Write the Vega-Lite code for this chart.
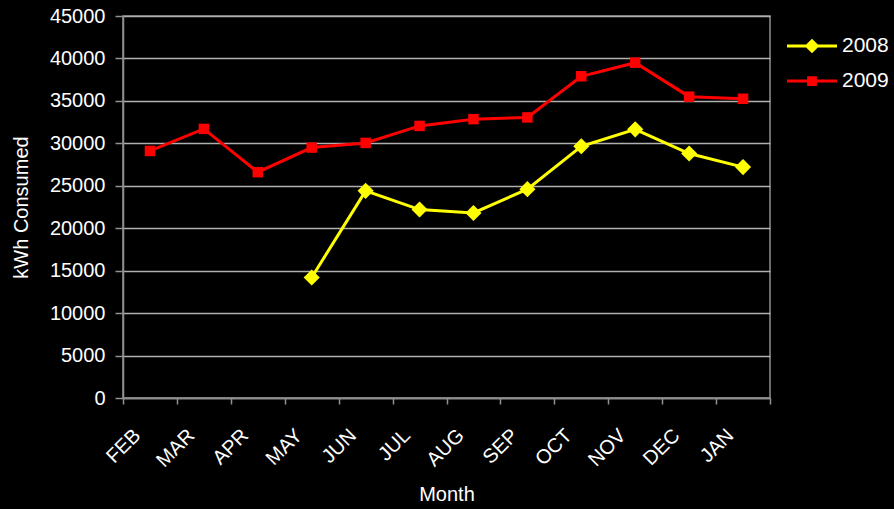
{
  "$schema": "https://vega.github.io/schema/vega-lite/v6.json",
  "width": 647,
  "height": 382,
  "autosize": "none",
  "padding": {"left": 123, "top": 16, "right": 124, "bottom": 111},
  "background": "#000000",
  "config": {
    "font": "Liberation Sans",
    "view": {"stroke": "#909090", "strokeWidth": 1.5},
    "axis": {
      "labelColor": "#ffffff", "titleColor": "#ffffff",
      "labelFont": "Liberation Sans", "titleFont": "Liberation Sans",
      "labelFontSize": 20, "titleFontSize": 20, "titleFontWeight": "normal",
      "domainColor": "#909090", "tickColor": "#909090", "gridColor": "#b0b0b0",
      "domainWidth": 1.5, "tickWidth": 1.5, "gridWidth": 1.5
    },
    "legend": {"labelColor": "#ffffff", "labelFont": "Liberation Sans", "labelFontSize": 21}
  },
  "data": {"values": [
    {"month": "FEB", "year": "2009", "kwh": 29100},
    {"month": "MAR", "year": "2009", "kwh": 31700},
    {"month": "APR", "year": "2009", "kwh": 26600},
    {"month": "MAY", "year": "2009", "kwh": 29500},
    {"month": "JUN", "year": "2009", "kwh": 30050},
    {"month": "JUL", "year": "2009", "kwh": 32050},
    {"month": "AUG", "year": "2009", "kwh": 32850},
    {"month": "SEP", "year": "2009", "kwh": 33050},
    {"month": "OCT", "year": "2009", "kwh": 37900},
    {"month": "NOV", "year": "2009", "kwh": 39500},
    {"month": "DEC", "year": "2009", "kwh": 35500},
    {"month": "JAN", "year": "2009", "kwh": 35250},
    {"month": "MAY", "year": "2008", "kwh": 14200},
    {"month": "JUN", "year": "2008", "kwh": 24400},
    {"month": "JUL", "year": "2008", "kwh": 22200},
    {"month": "AUG", "year": "2008", "kwh": 21800},
    {"month": "SEP", "year": "2008", "kwh": 24600},
    {"month": "OCT", "year": "2008", "kwh": 29650},
    {"month": "NOV", "year": "2008", "kwh": 31650},
    {"month": "DEC", "year": "2008", "kwh": 28800},
    {"month": "JAN", "year": "2008", "kwh": 27200}
  ]},
  "encoding": {
    "x": {
      "field": "month", "type": "ordinal",
      "sort": ["FEB","MAR","APR","MAY","JUN","JUL","AUG","SEP","OCT","NOV","DEC","JAN"],
      "scale": {"type": "band", "paddingInner": 0, "paddingOuter": 0},
      "axis": {
        "title": "Month", "labelAngle": -45, "labelAlign": "right", "labelBaseline": "middle",
        "tickBand": "extent", "tickSize": 6, "labelPadding": 28, "labelOffset": -13,
        "grid": false, "titlePadding": 14
      }
    },
    "y": {
      "field": "kwh", "type": "quantitative",
      "scale": {"domain": [0, 45000], "nice": false},
      "axis": {
        "title": "kWh Consumed", "values": [0,5000,10000,15000,20000,25000,30000,35000,40000,45000],
        "format": "d", "tickSize": 8, "labelPadding": 10, "titlePadding": 18, "grid": true
      }
    },
    "color": {
      "field": "year", "type": "nominal",
      "scale": {"domain": ["2008", "2009"], "range": ["#ffff00", "#ff0000"]}
    }
  },
  "layer": [
    {
      "mark": {"type": "line", "strokeWidth": 3},
      "encoding": {
        "color": {
          "field": "year", "type": "nominal",
          "legend": {
            "title": null, "orient": "none", "legendX": 675, "legendY": 16,
            "symbolSize": 625, "rowPadding": 9, "labelOffset": 16,
            "symbolStrokeWidth": 3,
            "encode": {"symbols": {"update": {
              "shape": {"signal": "datum.value == '2008' ? 'M-2,0H2M0,-0.42L0.42,0L0,0.42L-0.42,0Z' : 'M-2,0H2M-0.27,-0.27H0.27V0.27H-0.27Z'"},
              "stroke": {"scale": "color", "field": "value"},
              "fill": {"scale": "color", "field": "value"},
              "strokeWidth": {"value": 3},
              "size": {"value": 625},
              "opacity": {"value": 1}
            }}}
          }
        }
      }
    },
    {
      "transform": [{"filter": "datum.year == '2008'"}],
      "mark": {"type": "point", "filled": true, "opacity": 1, "shape": "diamond", "size": 260}
    },
    {
      "transform": [{"filter": "datum.year == '2009'"}],
      "mark": {"type": "point", "filled": true, "opacity": 1, "shape": "square", "size": 110}
    }
  ]
}
